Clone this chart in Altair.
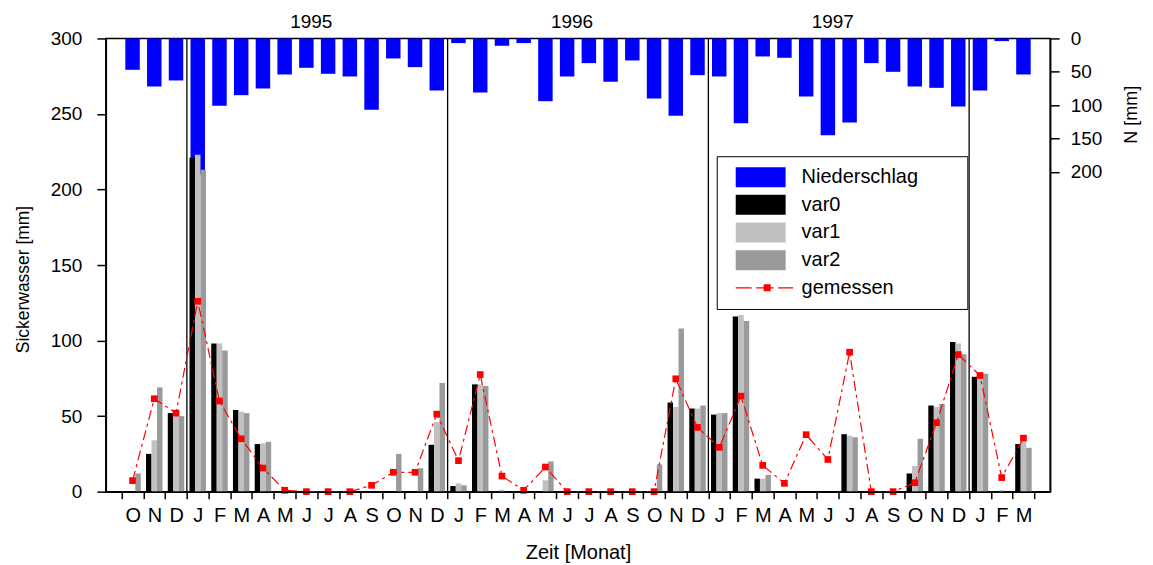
import altair as alt
import pandas as pd

# ---------------- data ----------------
months = ["O", "N", "D"] + ["J", "F", "M", "A", "M", "J", "J", "A", "S", "O", "N", "D"] * 3 + ["J", "F", "M"]

precip = [47, 72, 63, 204, 101, 85, 75, 54, 44, 53, 57, 107, 30, 43, 78,
          7, 81, 11, 7, 94, 57, 37, 65, 33, 90, 116, 55,
          57, 127, 27, 29, 87, 145, 126, 37, 50, 72, 74, 102,
          78, 4, 54]
var0 = [0, 25, 52, 221, 98, 54, 31.5, 0, 0, 0, 0, 0, 0, 0, 31,
        3.7, 71, 0, 0, 0, 0, 0, 0, 0, 0, 59, 55,
        51, 116, 8.6, 0, 0, 0, 38, 0, 0, 12, 57, 99,
        76, 0, 31.5]
var1 = [0, 34, 51, 223, 98, 53, 32, 0, 0, 0, 0, 0, 0, 0, 46,
        5.5, 71, 1.3, 0, 7.5, 0, 0, 0, 0, 0, 56, 55,
        52, 117, 8.6, 0, 0, 0, 37, 0, 0, 17, 56, 98,
        78, 1, 33]
var2 = [12, 69, 50, 213, 93.5, 52, 33, 0, 0, 0, 0, 0, 25, 15.5, 72,
        4.2, 70, 0, 0, 20, 0, 0, 0, 0, 18, 108, 57,
        52, 113, 11, 0, 0, 0, 36, 0, 0, 35, 58, 91,
        78, 0, 29]
gemessen = [7.3, 61.5, 52, 126, 60, 35, 15.6, 0.9, 0, 0, 0, 4.2, 12.8, 12.8, 51.3,
            20.5, 77.5, 10.3, 0.9, 16.3, 0, 0, 0, 0, 0, 74.7, 42.5,
            29.3, 63.2, 17.4, 5.5, 37.7, 21.3, 92.3, 0, 0, 5.9, 45.6, 90.7,
            76.9, 9.3, 35.4]
year_labels = ["1995", "1996", "1997"]

series_names = ["Niederschlag", "var0", "var1", "var2", "gemessen"]
series_colors = ["#0000ff", "#000000", "#c0c0c0", "#9a9a9a", "#ff0000"]

n = len(months)
df = pd.DataFrame({
    "idx": list(range(n)), "monat": months, "precip": precip,
    "var0": var0, "var1": var1, "var2": var2, "gemessen": gemessen,
})

# year boundaries (month index where a January follows a December)
bounds = [i for i in range(1, n) if months[i] == "J" and months[i - 1] == "D"]
rules_df = pd.DataFrame({"b": bounds})
years_df = pd.DataFrame({"b": bounds[:len(year_labels)], "jahr": year_labels})

legend_df = pd.DataFrame({"name": series_names})

# ---------------- styling ----------------
FONT = "Liberation Sans"
W, H = 946, 454
xscale = alt.Scale(domain=[-0.5, n + 0.5], nice=False, zero=False)
left_scale = alt.Scale(domain=[0, 300], nice=False, zero=True)
right_scale = alt.Scale(domain=[0, 679], nice=False, reverse=True)

month_str = "".join(months)
x_axis = alt.Axis(
    orient="bottom",
    values=list(range(n + 1)),
    labelExpr="substring('" + month_str + "', datum.value, datum.value + 1)",
    labelOffset=11, tickSize=7, labelPadding=7,
    labelFontSize=20, labelOverlap=False, labelFlush=False,
    title="Zeit [Monat]", titleFontSize=20, titlePadding=17, zindex=1,
)
left_axis = alt.Axis(
    orient="left", values=[0, 50, 100, 150, 200, 250, 300], tickSize=9, labelPadding=15,
    labelFontSize=19, title="Sickerwasser [mm]", titleFontSize=17.5, titlePadding=18,
    titleY=241, zindex=1,
)
right_axis = alt.Axis(
    orient="right", values=[0, 50, 100, 150, 200], tickSize=9, labelPadding=11,
    labelFontSize=19, title="N [mm]", titleFontSize=18, titleAngle=270,
    titleX=81, titleY=76, titleAlign="center", titleBaseline="middle", zindex=1,
)

base = alt.Chart(df).transform_calculate(mid="datum.idx + 0.5")

precip_layer = base.mark_bar(color="#0000ff", width=14.5).encode(
    x=alt.X("mid:Q", scale=xscale, axis=x_axis),
    y=alt.Y("precip:Q", scale=right_scale, axis=right_axis),
)

bw = 5.5
var0_layer = base.mark_bar(color="#000000", width=bw, xOffset=-bw).encode(
    x=alt.X("mid:Q", scale=xscale, axis=x_axis),
    y=alt.Y("var0:Q", scale=left_scale, axis=left_axis),
)
var1_layer = base.mark_bar(color="#c0c0c0", width=bw).encode(
    x=alt.X("mid:Q", scale=xscale, axis=x_axis),
    y=alt.Y("var1:Q", scale=left_scale, axis=None),
)
var2_layer = base.mark_bar(color="#9a9a9a", width=bw, xOffset=bw).encode(
    x=alt.X("mid:Q", scale=xscale, axis=x_axis),
    y=alt.Y("var2:Q", scale=left_scale, axis=None),
)

rules = alt.Chart(rules_df).mark_rule(color="black", strokeWidth=1.3).encode(
    x=alt.X("b:Q", scale=xscale, axis=x_axis),
)
year_text = alt.Chart(years_df).transform_calculate(c="datum.b + 6").mark_text(
    fontSize=19, font=FONT, baseline="alphabetic", dx=-6, color="black"
).encode(
    x=alt.X("c:Q", scale=xscale, axis=x_axis),
    y=alt.value(-10),
    text="jahr:N",
)

line = base.mark_line(color="#ff0000", strokeWidth=1.2, strokeDash=[10, 4, 3, 4]).encode(
    x=alt.X("mid:Q", scale=xscale, axis=x_axis),
    y=alt.Y("gemessen:Q", scale=left_scale, axis=None),
)
pts = base.mark_point(shape="square", filled=True, color="#ff0000", size=45, opacity=1).encode(
    x=alt.X("mid:Q", scale=xscale, axis=x_axis),
    y=alt.Y("gemessen:Q", scale=left_scale, axis=None),
)

# legend symbols (unit: 10 px; symbol size 400 -> sqrt 20)
rect_path = "M-1,-1H4V1H-1Z M21.1,0"
meas_path = ("M-1,-0.065H0.6V0.065H-1Z M1.05,-0.065H1.8V0.065H1.05Z "
             "M1.8,-0.35H2.5V0.35H1.8Z M2.5,-0.065H2.8V0.065H2.5Z "
             "M3.25,-0.065H4.75V0.065H3.25Z")
shapes = [rect_path, rect_path, rect_path, rect_path, meas_path]
leg = alt.Legend(
    title=None, orient="none", legendX=612, legendY=118, padding=11,
    strokeColor="black", fillColor="white", symbolSize=400, symbolStrokeWidth=0,
    symbolOffset=8, labelOffset=46, labelFontSize=20, labelFont=FONT, rowPadding=7.7,
    labelColor="black", labelLimit=400, symbolOpacity=1,
)
legend_layer = alt.Chart(legend_df).mark_point(filled=True, opacity=1).encode(
    x=alt.value(-3000), y=alt.value(-3000),
    color=alt.Color("name:N", scale=alt.Scale(domain=series_names, range=series_colors), legend=leg),
    shape=alt.Shape("name:N", scale=alt.Scale(domain=series_names, range=shapes), legend=leg),
)

chart = alt.layer(
    precip_layer, var0_layer, var1_layer, var2_layer, rules, year_text, line, pts, legend_layer
).resolve_scale(y="independent").properties(
    width=W, height=H,
    padding={"left": 98, "top": 30, "right": 95, "bottom": 72},
    autosize=alt.AutoSizeParams(type="none"),
).configure(font=FONT).configure_view(
    stroke="black", strokeWidth=1.5
).configure_axis(
    grid=False, domainColor="black", tickColor="black", labelColor="black",
    titleColor="black", domainWidth=1.5, tickWidth=1.5, titleFontWeight="normal",
    labelFont=FONT, titleFont=FONT,
)

chart.save("out.html", embed_options={"renderer": "svg", "actions": False})
